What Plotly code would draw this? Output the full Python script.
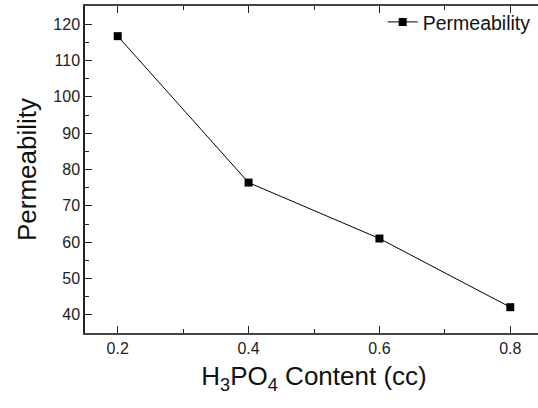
import plotly.graph_objects as go

content = [0.2, 0.4, 0.6, 0.8]
permeability = [116.7, 76.4, 61.0, 42.1]
x_ticks = [0.2, 0.4, 0.6, 0.8]
y_ticks = [40, 50, 60, 70, 80, 90, 100, 110, 120]

fig = go.Figure()
fig.add_trace(go.Scatter(
    x=content, y=permeability, mode="lines+markers", name="Permeability",
    line=dict(color="black", width=1),
    marker=dict(symbol="square", size=8, color="black"),
))

font = "Liberation Sans, Arial, sans-serif"
fig.update_layout(
    width=543, height=408,
    margin=dict(l=85, r=0, t=6, b=75, autoexpand=False),
    plot_bgcolor="white", paper_bgcolor="white",
    font=dict(family=font, color="#222"),
    showlegend=True,
    legend=dict(x=0.65, y=1.01, xanchor="left", yanchor="top",
                bgcolor="rgba(0,0,0,0)", font=dict(size=19.5, color="#111"),
                itemwidth=30),
    xaxis=dict(
        range=[0.15, 0.85], tickvals=x_ticks, ticktext=[str(v) for v in x_ticks],
        ticks="inside", ticklen=7, tickwidth=1, tickcolor="#222",
        minor=dict(ticks="inside", ticklen=4, dtick=0.1, tickcolor="#222"),
        showline=True, linecolor="#444", linewidth=1.5, mirror="allticks",
        showgrid=False, zeroline=False, automargin=False,
        tickfont=dict(size=16, color="#222"),
        title=dict(text="H<sub>3</sub>PO<sub>4</sub> Content (cc)",
                   font=dict(size=26, color="#111"), standoff=11),
    ),
    yaxis=dict(
        range=[35, 125], tickvals=y_ticks,
        ticks="inside", ticklen=7, tickwidth=1, tickcolor="#222",
        minor=dict(ticks="inside", ticklen=4, dtick=5, tickcolor="#222"),
        showline=True, linecolor="#222", linewidth=1.5,
        showgrid=False, zeroline=False, automargin=False,
        tickfont=dict(size=16, color="#222"),
        title=dict(text="Permeability", font=dict(size=26, color="#111"), standoff=9),
    ),
)

fig.write_html(
    "out.html",
    config={"displayModeBar": False},
    post_script="document.body.style.margin='0';document.body.style.overflow='hidden';",
)
